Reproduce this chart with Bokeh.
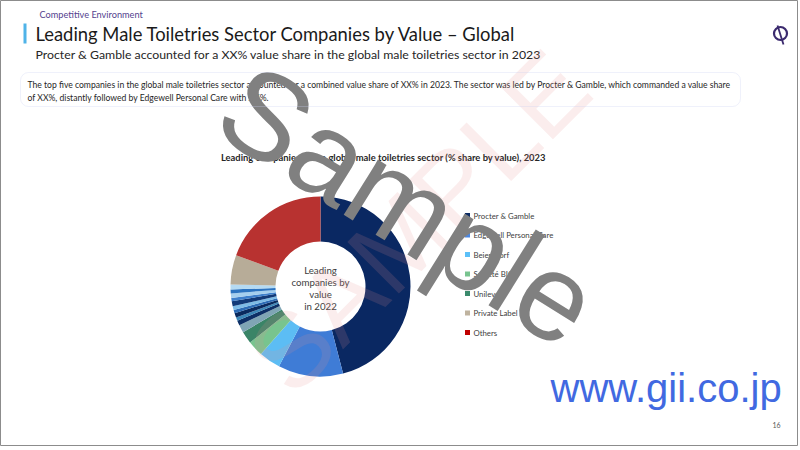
import numpy as np
from bokeh.plotting import figure
from bokeh.models import Range1d, BoxAnnotation
from bokeh.core.properties import value
from bokeh.embed import file_html
from bokeh.resources import INLINE

# ---------------- data ----------------
slice_labels = ["Procter & Gamble", "Edgewell Personal Care", "Beiersdorf", "Société BIC", "Unilever",
                "Other company 1", "Other company 2", "Other company 3", "Other company 4",
                "Other company 5", "Other company 6", "Other company 7", "Other company 8",
                "Other company 9", "Other company 10", "Other company 11",
                "Private Label", "Others"]
slice_shares = [46.1, 11.7, 3.9, 2.8, 2.2,
                1.4, 0.9, 0.6, 0.8, 0.6, 0.7, 0.9, 0.6, 0.8, 0.7, 0.9,
                5.3, 19.4]
slice_colors = ["#0A2862", "#3F7CD6", "#5CBDF4", "#78C48F", "#3A8467",
                "#7FA5B5", "#0D2F66", "#3C87B8", "#0A2A5E", "#2D6CB5", "#7DBBE6",
                "#123A78", "#3E7FCB", "#A5CFEE", "#2B73C0", "#B5DAF2",
                "#B7AC98", "#B83230"]

legend_labels = ["Procter & Gamble", "Edgewell Personal Care", "Beiersdorf", "Société BIC",
                 "Unilever", "Private Label", "Others"]
legend_colors = ["#0B2A63", "#4A86E0", "#5CC0F8", "#78C48F", "#3A8A6C", "#BFB39F", "#C00000"]

center_lines = ["Leading", "companies by", "value", "in 2022"]

# ---------------- figure ----------------
W, H = 798, 446
p = figure(width=W, height=H, output_backend="svg", toolbar_location=None,
           x_range=Range1d(0, W), y_range=Range1d(0, H),
           x_axis_location=None, y_axis_location=None, min_border=0,
           tools="")
p.grid.visible = False
p.outline_line_color = "#8c8c8c"
p.outline_line_width = 1
p.background_fill_color = "white"
p.border_fill_color = "white"


def Y(y):
    return H - y


def txt(x, y, s, size, color="#262626", font="Lato", style="normal", align="left",
        angle=0.0, alpha=1.0):
    p.text(x=[x], y=[Y(y)], text=[s], text_font=value(font), text_font_size=size,
           text_color=color, text_font_style=style, text_align=align,
           text_baseline="middle", angle=angle, text_alpha=alpha)


# header
txt(39, 14, "Competitive Environment", "9.2px", color="#54428E")
p.quad(left=[23], right=[26], top=[Y(23)], bottom=[Y(43)], color="#4FB3E8", line_color=None)
txt(35, 33, "Leading Male Toiletries Sector Companies by Value \u2013 Global", "18.4px", color="#1a1a1a")
txt(35, 54, "Procter & Gamble accounted for a XX% value share in the global male toiletries sector in 2023",
    "12.3px", color="#262626")

# logo
p.scatter(x=[780], y=[Y(33)], marker="circle", size=13, fill_color=None,
          line_color="#3B2A6E", line_width=2.2)
p.segment(x0=[777], y0=[Y(25)], x1=[783], y1=[Y(44)], line_color="#3B2A6E", line_width=1.8)

# text box
box = BoxAnnotation(left=20, right=740, top=Y(72), bottom=Y(106), fill_color=None,
                    line_color="#C9D0F2", line_width=1, border_radius=8)
p.add_layout(box)
txt(27, 84, "The top five companies in the global male toiletries sector accounted for a combined value share "
            "of XX% in 2023. The sector was led by Procter & Gamble, which commanded a value share",
    "8.6px", color="#262626")
txt(27, 97, "of XX%, distantly followed by Edgewell Personal Care with XX%.", "8.6px", color="#262626")

# chart title
txt(383, 157, "Leading companies in the global male toiletries sector (% share by value), 2023",
    "9.4px", color="#262626", style="bold", align="center")

# donut
shares = np.array(slice_shares, dtype=float)
frac = shares / shares.sum()
cum_end = np.cumsum(frac)
cum_start = cum_end - frac
start_ang = np.pi / 2 - 2 * np.pi * cum_end
end_ang = np.pi / 2 - 2 * np.pi * cum_start
cx, cy = 320, Y(286)
p.annular_wedge(x=cx, y=cy, inner_radius=45, outer_radius=90,
                start_angle=list(start_ang), end_angle=list(end_ang),
                fill_color=slice_colors, line_color=None, direction="anticlock")

for i, s in enumerate(center_lines):
    txt(320, 269 + 12 * i, s, "9.7px", color="#404040", align="center")

# legend
for i, (lab, col) in enumerate(zip(legend_labels, legend_colors)):
    ly = 215 + 19.5 * i
    p.rect(x=[467], y=[Y(ly)], width=5, height=5, fill_color=col, line_color=None)
    txt(473, ly, lab, "7.8px", color="#404040")

# faint SAMPLE watermark
txt(266, 373, "SAMPLE", "106px", color="#E89090", font="Liberation Sans",
    angle=np.pi / 4, alpha=0.16)

# gray Sample watermark
txt(231, 94, "Sample", "123px", color="#808080", font="Liberation Sans",
    angle=-np.deg2rad(32))

# site url and page number
txt(550, 387, "www.gii.co.jp", "40px", color="#4169E1", font="Liberation Sans")
txt(780, 424, "16", "7px", color="#595959", align="right")

open("out.html", "w").write(file_html(p, INLINE))
